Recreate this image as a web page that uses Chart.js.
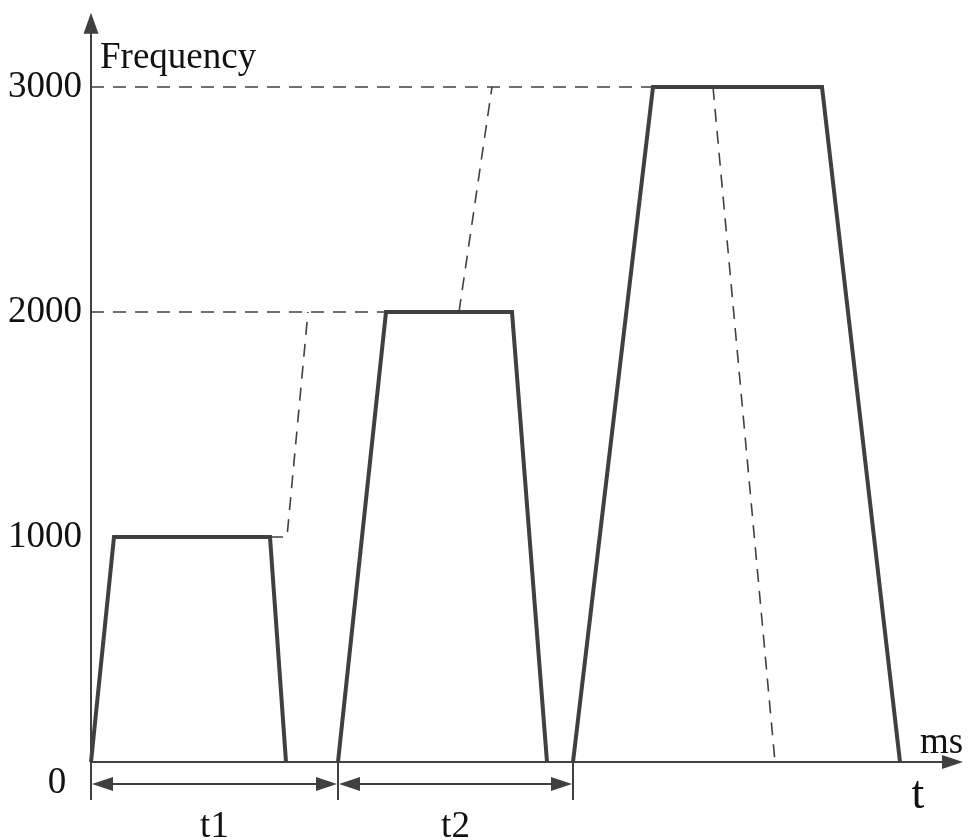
<!DOCTYPE html>
<html>
<head>
<meta charset="utf-8">
<script src="https://cdn.jsdelivr.net/npm/chart.js@4.4.1/dist/chart.umd.min.js"></script>
<style>
html, body { margin: 0; padding: 0; background: #fff; }
#wrap { width: 968px; height: 840px; }
</style>
</head>
<body>
<div id="wrap"><canvas id="freqChart"></canvas></div>
<script>
const ctx = document.getElementById('freqChart');

// frequency levels marked on the y axis
const freqTicks = [0, 1000, 2000, 3000]

// solid speed profile: time (ms) and frequency, null breaks the line between runs
const profileT    = [0, 23, 179, 195, null, 247, 295, 421, 456, null, 482, 562, 731, 809]
const profileFreq = [0, 1000, 1000, 0, null, 0, 2000, 2000, 0, null, 0, 3000, 3000, 0]

// dashed guide lines
const guideT    = [0, 295, null, 0, 562, null, 179, 196, 217, null, 368, 401, null, 622, 684]
const guideFreq = [2000, 2000, null, 3000, 3000, null, 1000, 1000, 2000, null, 2000, 3000, null, 3000, 0]

// interval markers under the time axis
const intervalEdges  = [0, 247, 482]
const intervalLabels = ['t1', 't2']

// axis extents (data units)
const tAxisEnd = 872
const freqAxisTop = 3330
const freqAxisBottom = -169
const markerFreq = -98

const ink = '#404040'
const serif = '"Liberation Serif", "DejaVu Serif", serif'

const toPoints = (xs, ys) => xs.map((x, i) => ({x: x, y: ys[i]}))

const axesPlugin = {
    id: 'axes',
    beforeDatasetsDraw(chart) {
        const c = chart.ctx
        const xs = chart.scales.x
        const ys = chart.scales.y
        const x0 = xs.getPixelForValue(0)
        const y0 = ys.getPixelForValue(0)
        c.save()
        c.strokeStyle = ink
        c.fillStyle = ink
        c.lineWidth = 2
        // vertical axis
        const yTop = ys.getPixelForValue(freqAxisTop)
        c.beginPath()
        c.moveTo(x0, ys.getPixelForValue(freqAxisBottom))
        c.lineTo(x0, yTop + 18)
        c.stroke()
        c.beginPath()
        c.moveTo(x0, yTop)
        c.lineTo(x0 - 7.5, yTop + 21)
        c.lineTo(x0 + 7.5, yTop + 21)
        c.closePath()
        c.fill()
        // horizontal axis
        const xEnd = xs.getPixelForValue(tAxisEnd)
        c.beginPath()
        c.moveTo(x0, y0)
        c.lineTo(xEnd - 18, y0)
        c.stroke()
        c.beginPath()
        c.moveTo(xEnd, y0)
        c.lineTo(xEnd - 21, y0 - 7)
        c.lineTo(xEnd - 21, y0 + 7)
        c.closePath()
        c.fill()
        // interval markers
        const yb = ys.getPixelForValue(freqAxisBottom)
        const ym = ys.getPixelForValue(markerFreq)
        intervalEdges.forEach((e, i) => {
            const px = xs.getPixelForValue(e)
            c.beginPath()
            c.moveTo(px, y0)
            c.lineTo(px, yb)
            c.stroke()
            if (i === 0) return
            const pa = xs.getPixelForValue(intervalEdges[i - 1])
            c.beginPath()
            c.moveTo(pa + 20, ym)
            c.lineTo(px - 20, ym)
            c.stroke()
            c.beginPath()
            c.moveTo(pa + 1, ym)
            c.lineTo(pa + 22, ym - 7)
            c.lineTo(pa + 22, ym + 7)
            c.closePath()
            c.fill()
            c.beginPath()
            c.moveTo(px - 1, ym)
            c.lineTo(px - 22, ym - 7)
            c.lineTo(px - 22, ym + 7)
            c.closePath()
            c.fill()
        })
        c.restore()
    },
    afterDraw(chart) {
        const c = chart.ctx
        const xs = chart.scales.x
        const ys = chart.scales.y
        const px = v => xs.getPixelForValue(v)
        const py = v => ys.getPixelForValue(v)
        c.save()
        c.fillStyle = '#111'
        c.textBaseline = 'alphabetic'
        c.font = '37px ' + serif
        c.textAlign = 'left'
        c.fillText('Frequency', px(9), py(3084))
        c.fillText('ms', px(829), py(40))
        c.textAlign = 'center'
        c.fillText('0', px(-34), py(-138))
        intervalLabels.forEach((lab, i) => {
            c.fillText(lab, px((intervalEdges[i] + intervalEdges[i + 1]) / 2), py(-333))
        })
        c.font = '46px ' + serif
        c.fillText('t', px(827), py(-204))
        c.restore()
    }
}

new Chart(ctx, {
    type: 'scatter',
    data: {
        datasets: [
            {
                label: 'profile',
                data: toPoints(profileT, profileFreq),
                showLine: true,
                borderColor: ink,
                borderWidth: 4,
                borderJoinStyle: 'miter',
                pointRadius: 0,
                clip: false
            },
            {
                label: 'guides',
                data: toPoints(guideT, guideFreq),
                showLine: true,
                borderColor: ink,
                borderWidth: 1.6,
                borderDash: [13, 9],
                pointRadius: 0,
                clip: false
            }
        ]
    },
    options: {
        responsive: true,
        maintainAspectRatio: false,
        animation: false,
        layout: {padding: {top: 19.5, bottom: 78, left: 0, right: 5}},
        plugins: {legend: {display: false}, tooltip: {enabled: false}},
        scales: {
            x: {type: 'linear', min: 0, max: tAxisEnd, display: false},
            y: {
                type: 'linear',
                min: 0,
                max: 3300,
                afterFit: s => { s.width = 91; s.paddingTop = 0; s.paddingBottom = 0 },
                afterBuildTicks: s => { s.ticks = freqTicks.map(v => ({value: v})) },
                grid: {display: false, drawTicks: false},
                border: {display: false},
                ticks: {
                    padding: 9,
                    color: '#111',
                    font: {family: serif, size: 37},
                    callback: v => v === 0 ? '' : String(v)
                }
            }
        }
    },
    plugins: [axesPlugin]
});
</script>
</body>
</html>
